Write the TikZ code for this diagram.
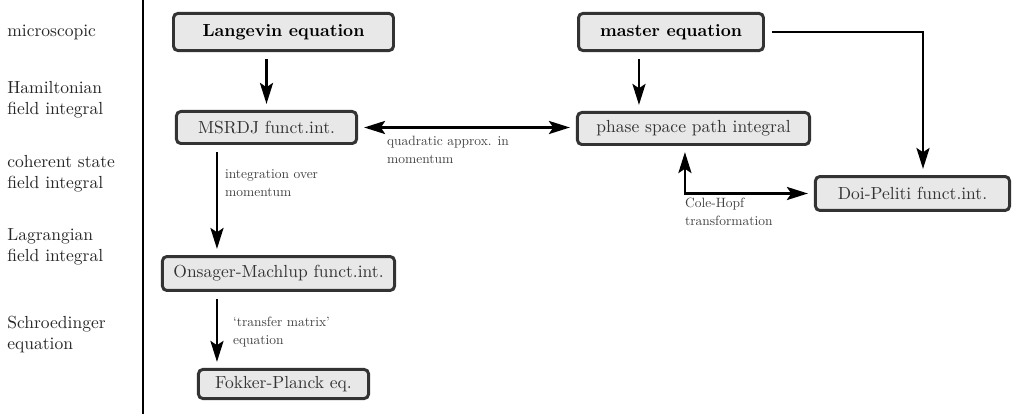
\documentclass[tikz,border=0pt]{standalone}
\usepackage{amsmath,amssymb}
\usepackage{tikz}
\usetikzlibrary{arrows.meta,calc}

\definecolor{boxfill}{gray}{0.91}
\definecolor{boxline}{gray}{0.2}
\definecolor{lbltext}{gray}{0.25}
\font\lblfont="[lmroman10-regular]:+tlig" at 7.7pt

\begin{document}
\begin{tikzpicture}[x=0.5714pt, y=-0.5714pt,
  box/.style={draw=boxline, fill=boxfill, line width=1.7pt, rounded corners=2.5pt, text=boxline, inner sep=0pt},
  arr/.style={-{Stealth[length=12pt,width=7.5pt,inset=2.5pt]}, line width=1.3pt, shorten <=4pt, shorten >=3.5pt},
  arrboth/.style={{Stealth[length=12pt,width=7.5pt,inset=2.5pt]}-{Stealth[length=12pt,width=7.5pt,inset=2.5pt]}, line width=1.3pt, shorten <=3.5pt, shorten >=3.5pt},
  lbl/.style={font={\fontsize{7.7}{10.3}\selectfont\lblfont}, text=lbltext, align=left, anchor=north west, inner sep=1pt},
  level/.style={align=left, anchor=west, inner sep=0pt, text=black!85}]
\useasboundingbox (0,0) rectangle (1013,414);
% levels of description
\node[level] (micro) at (7,32) {microscopic};
\node[level] (hamil) at (7,100) {Hamiltonian\\field integral};
\node[level] (coher) at (7,174) {coherent state\\field integral};
\node[level] (lagr) at (7,247) {Lagrangian\\field integral};
\node[level] (schr) at (7,335) {Schroedinger\\equation};
\draw[line width=1pt] (143,0) -- (143,414);
% boxes
\node[box, minimum width=125.7pt, minimum height=21.2pt, text=black, font=\bfseries] (lang) at (283.5,32) {Langevin equation};
\node[box, minimum width=105.7pt, minimum height=21.2pt, text=black, font=\bfseries] (master) at (671,32) {master equation};
\node[box, minimum width=102.9pt, minimum height=18.3pt] (msrdj) at (266.5,127.5) {MSRDJ funct.int.};
\node[box, minimum width=132.6pt, minimum height=18.3pt] (phase) at (693.5,128.5) {phase space path integral};
\node[box, minimum width=110.9pt, minimum height=19.4pt] (doi) at (912.5,193.5) {Doi-Peliti funct.int.};
\node[box, minimum width=132.6pt, minimum height=19.4pt] (onsager) at (278.5,273.5) {Onsager-Machlup funct.int.};
\node[box, minimum width=97.2pt, minimum height=16.6pt] (fokker) at (283.5,384) {Fokker-Planck eq.};
% connectors
\coordinate (mx) at ([xshift=35.4pt]master.south west);
\coordinate (cx) at ([xshift=-4.9pt]phase.south);
\coordinate (lx) at ([xshift=24pt]msrdj.south west);
\draw[arr] (lang.south -| msrdj.north) -- (msrdj.north);
\draw[arr] (mx) -- (mx |- phase.north);
\draw[arrboth] (msrdj.east) -- (msrdj.east -| phase.west);
\draw[arr] (master.east) -| ([xshift=6pt]doi.north);
\draw[arrboth] (cx) |- (doi.west);
\draw[arr] (lx) -- (lx |- onsager.north);
\draw[arr] (lx |- onsager.south) -- (lx |- fokker.north);
% labels
\node[lbl] (quad) at (385,134) {quadratic approx. in\\momentum};
\node[lbl] (integ) at (223,168) {integration over\\momentum};
\node[lbl] (cole) at (683,196) {Cole-Hopf\\transformation};
\node[lbl] (trans) at (231,315) {‘transfer matrix’\\equation};
\end{tikzpicture}
\end{document}
